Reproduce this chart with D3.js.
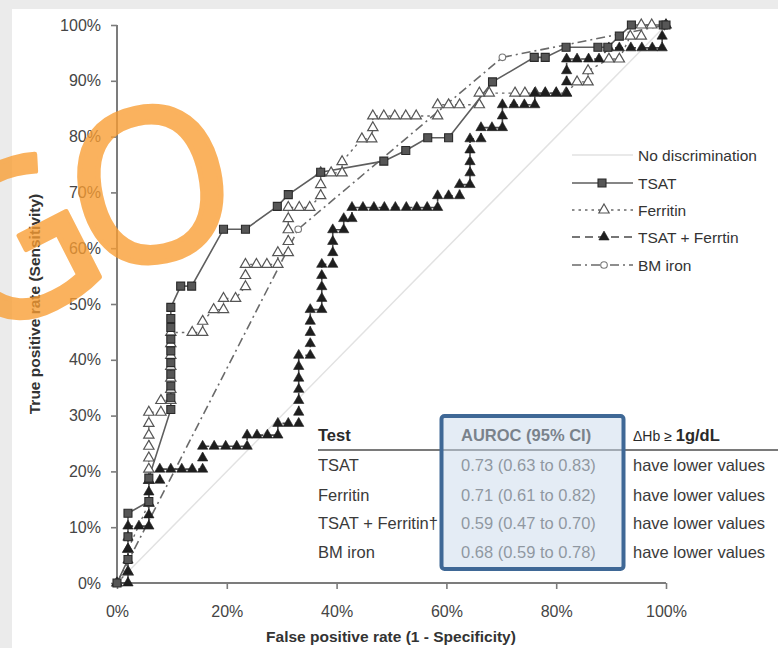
<!DOCTYPE html>
<html>
<head>
<meta charset="utf-8">
<script src="https://cdn.jsdelivr.net/npm/d3@7"></script>
<style>
  html, body { margin: 0; padding: 0; background: #ebebeb; }
  svg { display: block; }
  text { font-family: "Liberation Sans", Arial, Helvetica, sans-serif; }
</style>
</head>
<body>
<svg id="chart" width="778" height="648"></svg>
<script>
// ---------------- DATA ----------------
const xTicks = [0, 20, 40, 60, 80, 100];
const yTicks = [0, 10, 20, 30, 40, 50, 60, 70, 80, 90, 100];

// ROC points: [false positive rate %, true positive rate %]
const tsatPoints = [
  [0,0],[2,4.2],[2,8.3],[2,12.5],[5.8,14.6],[5.8,18.8],
  [9.8,31.1],[9.8,33.2],[9.8,35.3],[9.8,37.4],[9.8,39.5],[9.8,41.6],[9.8,43.7],[9.8,45.8],[9.8,47.4],[9.8,49.4],
  [11.6,53.2],[13.6,53.2],[19.4,63.4],[23.4,63.4],[29.2,67.5],[31.2,69.6],[37.1,73.6],
  [48.6,75.6],[52.6,77.5],[56.6,79.8],[60.4,79.8],[68.4,89.8],[76,94.2],[78,94.2],
  [81.8,96],[87.6,96],[89.4,96],[91.5,98],[93.7,100],[99.5,100],[100,100]
];
const ferritinPoints = [
  [0,0],[2,2],[2,6],[5.8,14.3],[5.8,18.4],[5.8,20.4],[5.8,22.4],[5.8,24.5],[5.8,26.5],[5.8,28.6],[5.8,30.6],
  [8,30.6],[8,32.7],[9.8,32.7],[9.8,34.7],[9.8,36.7],[9.8,38.8],[9.8,40.8],[9.8,42.9],[9.8,44.9],
  [13.7,44.9],[15.6,44.9],[15.6,46.9],[17.6,49],[19.4,49],[19.4,51],[21.6,51],[23.4,53.1],[23.4,55.1],[23.4,57.1],
  [25.4,57.1],[27.3,57.1],[29.3,57.1],[29.3,59.2],[31.2,59.2],[31.2,61.2],[31.2,63.3],[31.2,65.3],[31.2,67.3],
  [33.2,67.3],[35.1,67.3],[37.1,69.4],[37.1,71.4],[37.1,73.5],[39,73.5],[41,73.5],[41,75.5],
  [44.6,79.6],[46.4,79.6],[46.6,81.6],[46.6,83.7],[48.6,83.7],[50.6,83.7],[52.6,83.7],[54.5,83.7],
  [58.4,83.7],[58.4,85.7],[60.4,85.7],[62.4,85.7],[66,85.7],[66,87.8],[67.8,87.8],
  [72.5,87.8],[74.3,87.8],[76.2,87.8],[78,87.8],[80,87.8],[81.8,87.8],[83.8,89.8],[85.8,89.8],[85.8,91.8],
  [89.6,93.9],[91.5,93.9],[93.5,98],[95.5,98],[95.5,100],[97.4,100],[100,100]
];
const comboPoints = [
  [0,0],[2,0],[2,2],[2,4.1],[2,6.1],[2,8.2],[2,10.2],[4,10.2],[5.8,10.2],[5.8,12.2],[5.8,14.3],[5.8,16.3],[5.8,18.4],
  [7.8,18.4],[7.8,20.4],[9.8,20.4],[11.8,20.4],[13.7,20.4],[15.6,20.4],[15.6,22.4],[15.6,24.5],
  [17.7,24.5],[19.8,24.5],[21.8,24.5],[23.7,24.5],[23.7,26.5],[25.5,26.5],[27.4,26.5],[29.3,26.5],[29.3,28.6],
  [31.2,28.6],[33.1,28.6],[33.1,30.6],[33.1,32.7],[33.1,34.7],[33.1,36.7],[33.1,38.8],[33.1,40.8],
  [35.2,40.8],[35.2,42.9],[35.2,44.9],[35.2,46.9],[35.2,49],[37.3,49],[37.3,51],[37.3,53.1],[37.3,55.1],[37.3,57.1],
  [39.3,57.1],[39.3,59.2],[39.3,61.2],[39.3,63.3],[41.3,63.3],[41.3,65.3],[42.8,65.3],[42.8,67.3],
  [44.8,67.3],[46.8,67.3],[48.7,67.3],[50.7,67.3],[52.7,67.3],[54.6,67.3],[56.5,67.3],[58.4,67.3],[58.4,69.4],
  [60.4,69.4],[62.4,69.4],[62.4,71.4],[64.3,71.4],[64.3,73.5],[64.3,75.5],[64.3,77.6],[64.3,79.6],[66.3,79.6],
  [66.3,81.6],[68.3,81.6],[70.2,81.6],[70.2,83.7],[70.2,85.7],[72.3,85.7],[74.2,85.7],[76.1,85.7],[76.1,87.8],
  [78,87.8],[80,87.8],[81.9,87.8],[81.9,89.8],[81.9,91.8],[81.9,93.9],[83.8,93.9],[85.9,93.9],[87.8,93.9],
  [89.6,95.9],[91.5,95.9],[93.6,95.9],[95.6,95.9],[97.5,95.9],[99.3,95.9],[99.3,98],[100,100]
];
const bmIronPoints = [[0,0],[33,63.4],[70.2,94.2],[100,100]];
const diagonalPoints = [[0,0],[100,100]];

const legendLabels = ["No discrimination", "TSAT", "Ferritin", "TSAT + Ferrtin", "BM iron"];

const tableTests = ["TSAT", "Ferritin", "TSAT + Ferritin\u2020", "BM iron"];
const tableAuroc = ["0.73 (0.63 to 0.83)", "0.71 (0.61 to 0.82)", "0.59 (0.47 to 0.70)", "0.68 (0.59 to 0.78)"];
const tableHb = ["have lower values", "have lower values", "have lower values", "have lower values"];

// ---------------- DRAW ----------------
const svg = d3.select("#chart");
const x = d3.scaleLinear().domain([0, 100]).range([117, 666]);
const y = d3.scaleLinear().domain([0, 100]).range([583, 25]);

// background panel
svg.append("rect").attr("x", 0).attr("y", 0).attr("width", 778).attr("height", 648).attr("fill", "#ebebeb");
svg.append("rect").attr("x", 12).attr("y", 9).attr("width", 766).attr("height", 639).attr("fill", "#ffffff");

const line = d3.line().x(d => x(d[0])).y(d => y(d[1]));

// no-discrimination diagonal
svg.append("path").datum(diagonalPoints).attr("d", line)
  .attr("fill", "none").attr("stroke", "#e2e2e2").attr("stroke-width", 1.5);

// axes
const axisColor = "#7c7c7c";
const yAxis = svg.append("g").attr("transform", `translate(${x(0)},0)`)
  .call(d3.axisLeft(y).tickValues(yTicks).tickFormat(d => d + "%").tickSize(6).tickPadding(10));
const xAxis = svg.append("g").attr("transform", `translate(0,${y(0)})`)
  .call(d3.axisBottom(x).tickValues(xTicks).tickFormat(d => d + "%").tickSize(6).tickPadding(17));
[yAxis, xAxis].forEach(g => {
  g.select(".domain").attr("stroke", axisColor).attr("stroke-width", 2);
  g.selectAll(".tick line").attr("stroke", axisColor).attr("stroke-width", 1.6);
  g.selectAll(".tick text").attr("fill", "#454545")
    .style("font-family", '"Liberation Sans", Arial, sans-serif').style("font-size", "16px");
});
yAxis.select(".domain").attr("d", `M-0,${y(100)}V${y(0)}`);
xAxis.select(".domain").attr("d", `M${x(0)},0H${x(100)}`);

// axis titles
svg.append("text").attr("transform", `translate(40,${(y(0) + y(100)) / 2}) rotate(-90)`)
  .attr("text-anchor", "middle").attr("font-weight", "bold").attr("font-size", 15.5).attr("fill", "#333")
  .text("True positive rate (Sensitivity)");
svg.append("text").attr("x", 391).attr("y", 642)
  .attr("text-anchor", "middle").attr("font-weight", "bold").attr("font-size", 15.5).attr("fill", "#333")
  .text("False positive rate (1 - Specificity)");

// series lines
const series = [
  {pts: ferritinPoints, dash: "2.5,4", color: "#6a6a6a", width: 1.4},
  {pts: bmIronPoints, dash: "9,4,2,4", color: "#6a6a6a", width: 1.6},
  {pts: comboPoints, dash: "8,5", color: "#4a4a4a", width: 1.6},
  {pts: tsatPoints, dash: null, color: "#5e5e5e", width: 1.6}
];
series.forEach(s => {
  svg.append("path").datum(s.pts).attr("d", line).attr("fill", "none")
    .attr("stroke", s.color).attr("stroke-width", s.width)
    .attr("stroke-dasharray", s.dash);
});

const triSym = d3.symbol().type(d3.symbolTriangle).size(46);
const sqSym = d3.symbol().type(d3.symbolSquare).size(64);

function openTri(g, pts) {
  g.selectAll(null).data(pts).join("path").attr("d", triSym)
    .attr("transform", d => `translate(${x(d[0])},${y(d[1])})`)
    .attr("fill", "#ffffff").attr("stroke", "#555").attr("stroke-width", 1.2);
}
function filledTri(g, pts) {
  g.selectAll(null).data(pts).join("path").attr("d", triSym)
    .attr("transform", d => `translate(${x(d[0])},${y(d[1])})`)
    .attr("fill", "#1e1e1e").attr("stroke", "#1e1e1e").attr("stroke-width", 0.6);
}
function squares(g, pts) {
  g.selectAll(null).data(pts).join("path").attr("d", sqSym)
    .attr("transform", d => `translate(${x(d[0])},${y(d[1])})`)
    .attr("fill", "#565656").attr("stroke", "#2a2a2a").attr("stroke-width", 1.1);
}
function circles(g, pts) {
  g.selectAll(null).data(pts).join("circle")
    .attr("cx", d => x(d[0])).attr("cy", d => y(d[1])).attr("r", 3.3)
    .attr("fill", "#ffffff").attr("stroke", "#777").attr("stroke-width", 1.1);
}

openTri(svg.append("g"), ferritinPoints);
circles(svg.append("g"), bmIronPoints);
filledTri(svg.append("g"), comboPoints);
squares(svg.append("g"), tsatPoints);

// legend
const lg = svg.append("g");
const legY = [155, 183, 210, 237, 265];
const lx0 = 572, lx1 = 633, lmid = 604;
lg.append("line").attr("x1", lx0).attr("x2", lx1).attr("y1", legY[0]).attr("y2", legY[0])
  .attr("stroke", "#e2e2e2").attr("stroke-width", 1.5);
lg.append("line").attr("x1", lx0).attr("x2", lx1).attr("y1", legY[1]).attr("y2", legY[1])
  .attr("stroke", "#5e5e5e").attr("stroke-width", 1.6);
lg.append("line").attr("x1", lx0).attr("x2", lx1).attr("y1", legY[2]).attr("y2", legY[2])
  .attr("stroke", "#6a6a6a").attr("stroke-width", 1.4).attr("stroke-dasharray", "2.5,4");
lg.append("line").attr("x1", lx0).attr("x2", lx1).attr("y1", legY[3]).attr("y2", legY[3])
  .attr("stroke", "#4a4a4a").attr("stroke-width", 1.6).attr("stroke-dasharray", "8,5");
lg.append("line").attr("x1", lx0).attr("x2", lx1).attr("y1", legY[4]).attr("y2", legY[4])
  .attr("stroke", "#6a6a6a").attr("stroke-width", 1.6).attr("stroke-dasharray", "9,4,2,4");
lg.append("path").attr("d", sqSym).attr("transform", `translate(${lmid - 2},${legY[1]})`)
  .attr("fill", "#565656").attr("stroke", "#2a2a2a").attr("stroke-width", 1.1);
lg.append("path").attr("d", triSym).attr("transform", `translate(${lmid},${legY[2]})`)
  .attr("fill", "#fff").attr("stroke", "#555").attr("stroke-width", 1.2);
lg.append("path").attr("d", triSym).attr("transform", `translate(${lmid},${legY[3]})`)
  .attr("fill", "#1e1e1e").attr("stroke", "#1e1e1e").attr("stroke-width", 0.6);
lg.append("circle").attr("cx", lmid).attr("cy", legY[4]).attr("r", 3.3)
  .attr("fill", "#fff").attr("stroke", "#777").attr("stroke-width", 1.1);
lg.selectAll("text.leg").data(legendLabels).join("text").attr("class", "leg")
  .attr("x", 638).attr("y", (d, i) => legY[i] + 5.5)
  .attr("font-size", 15.5).attr("fill", "#333").text(d => d);

// table
const tg = svg.append("g");
const colX = [318, 461, 633];
const rowY = [471, 501, 529, 558];
tg.append("text").attr("x", colX[0]).attr("y", 441).attr("font-size", 16.5).attr("font-weight", "bold").attr("fill", "#2a2a2a").text("Test");
tg.append("text").attr("x", colX[1]).attr("y", 441).attr("font-size", 16.5).attr("font-weight", "bold").attr("fill", "#2a2a2a").text("AUROC (95% CI)");
const hb = tg.append("text").attr("x", colX[2]).attr("y", 441).attr("font-size", 16.5).attr("fill", "#2a2a2a");
hb.append("tspan").attr("font-size", 14).text("\u0394Hb \u2265 ");
hb.append("tspan").attr("font-weight", "bold").text("1g/dL");
tg.append("line").attr("x1", 318).attr("x2", 778).attr("y1", 450).attr("y2", 450)
  .attr("stroke", "#7a7a7a").attr("stroke-width", 2.2);
tableTests.forEach((t, i) => {
  tg.append("text").attr("x", colX[0]).attr("y", rowY[i]).attr("font-size", 16.5).attr("fill", "#3a3a3a").text(t);
  tg.append("text").attr("x", colX[1]).attr("y", rowY[i]).attr("font-size", 16.5).attr("fill", "#555").text(tableAuroc[i]);
  tg.append("text").attr("x", colX[2]).attr("y", rowY[i]).attr("font-size", 16.5).attr("fill", "#3a3a3a").text(tableHb[i]);
});
// highlight box
tg.append("rect").attr("x", 441.5).attr("y", 416).attr("width", 182).attr("height", 153).attr("rx", 3)
  .attr("fill", "#c9d9ec").attr("fill-opacity", 0.5).attr("stroke", "#3f6896").attr("stroke-width", 4);

// watermark (per-glyph placement)
svg.append("g").attr("opacity", 0.78)
  .append("text")
  .attr("x", "-21 85.5").attr("y", "345 276.1").attr("rotate", "-27 -12")
  .style("font-family", '"Open Sans", sans-serif').attr("font-size", 212)
  .attr("fill", "#f99d32").attr("stroke", "#f99d32").attr("stroke-width", 5)
  .attr("stroke-linejoin", "round").text("GO");
</script>
</body>
</html>
